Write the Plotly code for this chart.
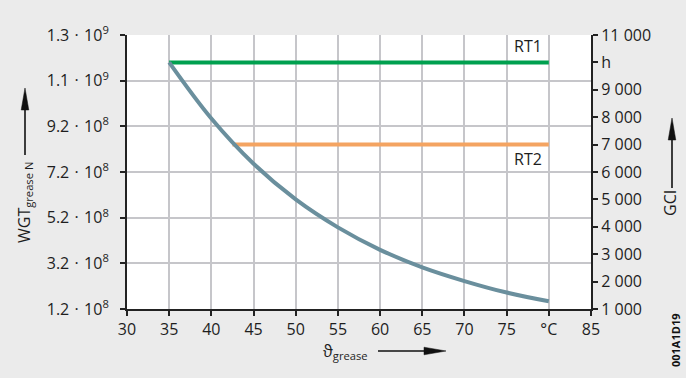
import numpy as np
import plotly.graph_objects as go

# ---------------- data ----------------
temps = [35, 40, 45, 50, 55, 60, 65, 70, 75, 80]          # grease temperature, °C
gci_h = [10000, 7950, 6300, 5000, 3980, 3160, 2520, 2020, 1600, 1280]  # GCI, h

rt_names = ["RT1", "RT2"]
rt_values = [10000, 7000]
rt_start = [35, 42.5]
rt_end = [80, 80]
rt_colors = ["#00a04f", "#f4a462"]

x_tickvals = [30, 35, 40, 45, 50, 55, 60, 65, 70, 75, 80, 85]
x_ticktext = ["30", "35", "40", "45", "50", "55", "60", "65", "70", "75", "°C", "85"]

SP = "\u2004"
left_ticktext = [f"1.2{SP}·{SP}10<sup>8</sup>", f"3.2{SP}·{SP}10<sup>8</sup>",
                 f"5.2{SP}·{SP}10<sup>8</sup>", f"7.2{SP}·{SP}10<sup>8</sup>",
                 f"9.2{SP}·{SP}10<sup>8</sup>", f"1.1{SP}·{SP}10<sup>9</sup>",
                 f"1.3{SP}·{SP}10<sup>9</sup>"]
left_range = [1.2e8, 1.3e9]

right_tickvals = [1000, 2000, 3000, 4000, 5000, 6000, 7000, 8000, 9000, 10000, 11000]
right_ticktext = ["1 000", "2 000", "3 000", "4 000", "5 000", "6 000", "7 000",
                  "8 000", "9 000", "h", "11 000"]

# ---------------- layout geometry ----------------
W, H = 686, 378
L, R, T, B = 127, 591, 35, 309
PW, PH = R - L, B - T

def px(p):
    return (p - L) / PW

def py(p):
    return (B - p) / PH

FONT = "Open Sans"
TXT = "#1e1e1e"
AX = "#222222"
GRID = "#c6c6ca"

fig = go.Figure()

# empty trace to anchor the left axis
fig.add_trace(go.Scatter(x=[], y=[], yaxis="y", showlegend=False, hoverinfo="skip"))

for name, v, s, e, c in zip(rt_names, rt_values, rt_start, rt_end, rt_colors):
    fig.add_trace(go.Scatter(x=[s, e], y=[v, v], mode="lines", yaxis="y2",
                             line=dict(color=c, width=4), showlegend=False,
                             hoverinfo="skip"))

fig.add_trace(go.Scatter(x=temps, y=gci_h, mode="lines", yaxis="y2",
                         line=dict(color="#6a8f9d", width=4, shape="spline"),
                         showlegend=False))

fig.update_layout(
    width=W, height=H,
    margin=dict(l=L, r=W - R, t=T, b=H - B, autoexpand=False),
    paper_bgcolor="#ebebeb",
    plot_bgcolor="#ffffff",
    font=dict(family=FONT, size=16, color=TXT),
    xaxis=dict(range=[30, 85], tickvals=x_tickvals, ticktext=x_ticktext,
               showgrid=True, gridcolor=GRID, gridwidth=2,
               showline=True, linecolor=AX, linewidth=2,
               ticks="outside", ticklen=5, tickwidth=1.5, tickcolor=AX,
               zeroline=False, fixedrange=True),
    yaxis=dict(range=left_range,
               tickvals=list(np.linspace(left_range[0], left_range[1], len(left_ticktext))),
               ticktext=left_ticktext, ticklabelstandoff=8,
               showgrid=True, gridcolor=GRID, gridwidth=2,
               showline=True, linecolor=AX, linewidth=2,
               ticks="outside", ticklen=5, tickwidth=1.5, tickcolor=AX,
               zeroline=False, fixedrange=True),
    yaxis2=dict(range=[1000, 11000], overlaying="y", side="right",
                tickvals=right_tickvals, ticktext=right_ticktext,
                showgrid=False, showline=True, linecolor=AX, linewidth=2,
                ticks="outside", ticklen=5, tickwidth=1.5, tickcolor=AX,
                zeroline=False, fixedrange=True),
)

ann = []
# RT labels
ann.append(dict(x=77.5, y=rt_values[0], xref="x", yref="y2", text=rt_names[0],
                showarrow=False, yshift=16, font=dict(size=16)))
ann.append(dict(x=77.5, y=rt_values[1], xref="x", yref="y2", text=rt_names[1],
                showarrow=False, yshift=-14, font=dict(size=16)))
# axis titles
ann.append(dict(x=px(25), y=py(203), xref="paper", yref="paper",
                text="WGT<sub>grease N</sub>", textangle=-90, showarrow=False,
                xanchor="center", yanchor="middle"))
ann.append(dict(x=px(670), y=py(203), xref="paper", yref="paper",
                text="GCI", textangle=-90, showarrow=False,
                xanchor="center", yanchor="middle"))
ann.append(dict(x=px(345), y=py(351), xref="paper", yref="paper",
                text="ϑ<sub>grease</sub>", showarrow=False,
                xanchor="center", yanchor="middle"))
ann.append(dict(x=px(675), y=py(341), xref="paper", yref="paper",
                text="<b>001A1D19</b>", textangle=-90, showarrow=False,
                xanchor="center", yanchor="middle", font=dict(size=11, color="#111")))
fig.update_layout(annotations=ann)

shapes = []
def arrow(x0, y0, x1, y1, head=22, half=3.8):
    # line from (x0,y0) to tip (x1,y1), pixel coordinates
    dx, dy = x1 - x0, y1 - y0
    n = (dx * dx + dy * dy) ** 0.5
    ux, uy = dx / n, dy / n
    bx, by = x1 - ux * head, y1 - uy * head
    shapes.append(dict(type="line", xref="paper", yref="paper",
                       x0=px(x0), y0=py(y0), x1=px(bx + ux * 2), y1=py(by + uy * 2),
                       line=dict(color="#111", width=1.6)))
    pxv, pyv = -uy, ux
    pts = [(x1, y1), (bx + pxv * half, by + pyv * half), (bx - pxv * half, by - pyv * half)]
    path = "M " + " L ".join(f"{px(a):.5f},{py(b):.5f}" for a, b in pts) + " Z"
    shapes.append(dict(type="path", xref="paper", yref="paper", path=path,
                       fillcolor="#111", line=dict(color="#111", width=0.5)))

arrow(25, 155, 25, 88)
arrow(672, 188, 672, 118)
arrow(378, 351, 446, 351)
fig.update_layout(shapes=shapes)

fig.write_html("out.html", config={"displayModeBar": False},
               post_script="document.body.style.margin='0';document.body.style.padding='0';")
